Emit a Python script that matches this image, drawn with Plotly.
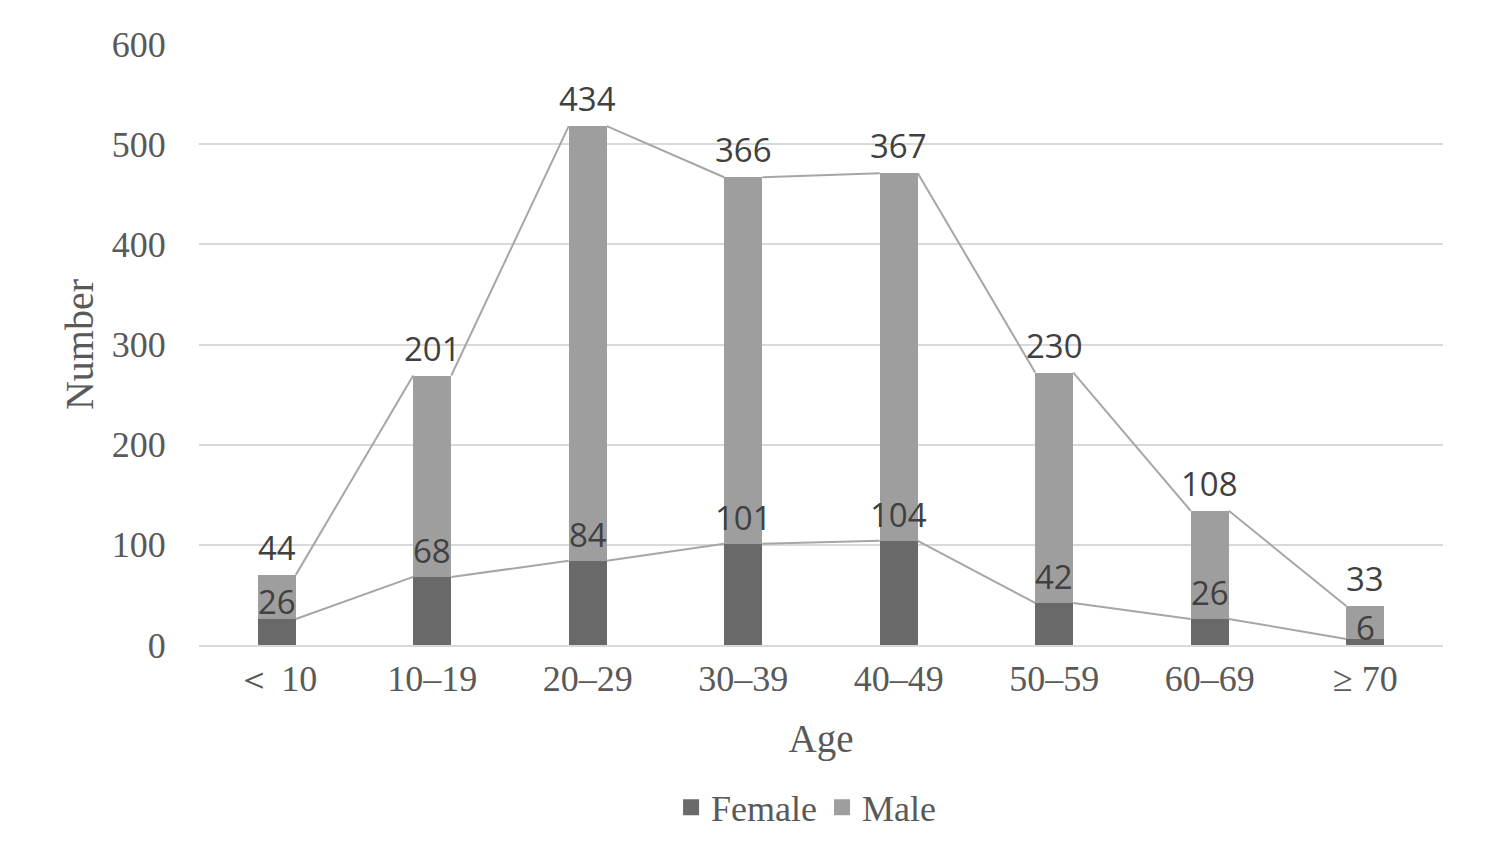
import plotly.graph_objects as go

AGE = ["\uff1c 10", "10\u201319", "20\u201329", "30\u201339", "40\u201349",
       "50\u201359", "60\u201369", "\u2265 70"]
FEMALE = [26, 68, 84, 101, 104, 42, 26, 6]
MALE = [44, 201, 434, 366, 367, 230, 108, 33]

C_FEMALE = "#696969"
C_MALE = "#9e9e9e"
C_LINE = "#a6a6a6"
C_TEXT = "#595959"
C_LABEL = "#404040"
SERIF = "Liberation Serif, Times New Roman, serif"
SANS = "Open Sans, Noto Sans, sans-serif"
BAR_W = 0.245

xs = list(range(len(AGE)))
total = [f + m for f, m in zip(FEMALE, MALE)]


def series_lines(vals):
    # Excel-style series lines: right edge of one bar top -> left edge of next
    lx, ly = [], []
    for i in range(len(vals) - 1):
        lx += [i + BAR_W / 2, i + 1 - BAR_W / 2, None]
        ly += [vals[i], vals[i + 1], None]
    return lx, ly


fig = go.Figure()
fig.add_trace(go.Bar(x=xs, y=FEMALE, name="Female", width=BAR_W,
                     showlegend=False,
                     marker=dict(color=C_FEMALE, line=dict(width=0))))
fig.add_trace(go.Bar(x=xs, y=MALE, name="Male", width=BAR_W,
                     showlegend=False,
                     marker=dict(color=C_MALE, line=dict(width=0))))

for vals in (total, FEMALE):
    lx, ly = series_lines(vals)
    fig.add_trace(go.Scatter(x=lx, y=ly, mode="lines", showlegend=False,
                             line=dict(color=C_LINE, width=2),
                             hoverinfo="skip"))

# data labels: male value above the stack, female value above its segment
for x, top, m in zip(xs, total, MALE):
    fig.add_annotation(x=x, y=top, text=str(m), showarrow=False,
                       yanchor="bottom", yshift=3,
                       font=dict(size=33, color=C_LABEL, family=SANS))
for x, f, m in zip(xs, FEMALE, MALE):
    if m < 50:
        # short male segment: centre the female label inside it
        pos = dict(y=f + m / 2, yanchor="middle", yshift=-5)
    else:
        pos = dict(y=f, yanchor="bottom", yshift=2)
    fig.add_annotation(x=x, text=str(f), showarrow=False, **pos,
                       font=dict(size=33, color=C_LABEL, family=SANS))

# legend entries with larger square swatches
for name, clr in (("Female", C_FEMALE), ("Male", C_MALE)):
    fig.add_trace(go.Scatter(x=[None], y=[None], mode="markers", name=name,
                             marker=dict(symbol="square", size=18, color=clr)))

fig.update_layout(
    width=1488, height=865, barmode="stack",
    paper_bgcolor="white", plot_bgcolor="white",
    margin=dict(l=191, r=53, t=36, b=228),
    font=dict(family=SERIF, color=C_TEXT),
    legend=dict(orientation="h", x=0.488, xanchor="center", y=-0.27,
                yanchor="middle", font=dict(size=36, family=SERIF, color=C_TEXT),
                traceorder="normal", itemwidth=30, tracegroupgap=0),
)
fig.update_xaxes(
    range=[-0.5, 7.5], tickvals=xs, ticktext=AGE,
    tickfont=dict(size=36, family=SERIF, color=C_TEXT),
    ticks="outside", ticklen=1, tickcolor="rgba(0,0,0,0)",
    showgrid=False, showline=True, linecolor="#d9d9d9", linewidth=2,
    title=dict(text="Age", font=dict(size=39, family=SERIF, color=C_TEXT),
               standoff=26),
)
fig.update_yaxes(
    range=[0, 600], dtick=100,
    tickfont=dict(size=36, family=SERIF, color=C_TEXT),
    ticks="outside", ticklen=25, tickcolor="rgba(0,0,0,0)",
    showgrid=True, gridcolor="#d9d9d9", gridwidth=2, zeroline=False,
    title=dict(text="Number", font=dict(size=40, family=SERIF, color=C_TEXT),
               standoff=5),
)

fig.write_html("out.html")
